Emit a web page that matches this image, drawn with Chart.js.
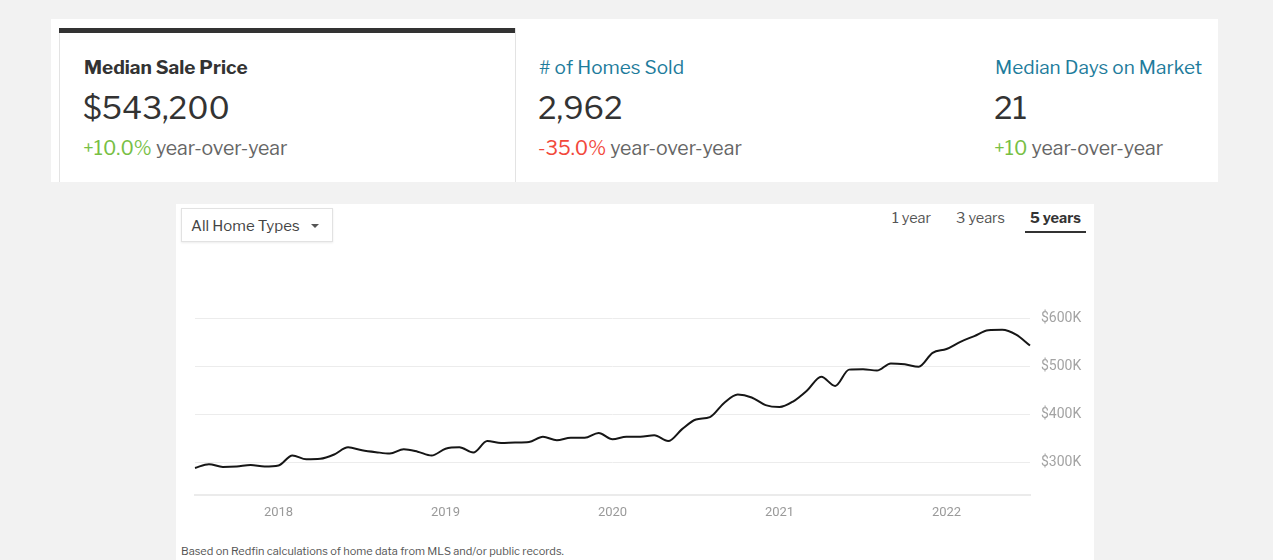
<!DOCTYPE html>
<html>
<head>
<meta charset="utf-8">
<script src="https://cdn.jsdelivr.net/npm/chart.js@4.4.0/dist/chart.umd.min.js"></script>
<style>
  html, body { margin: 0; padding: 0; width: 1273px; height: 560px; overflow: hidden; background: #f2f2f2; font-family: "Libre Franklin", Roboto, "Open Sans", sans-serif; }
  .abs { position: absolute; white-space: nowrap; }
  #stats { position: absolute; left: 51px; top: 19px; width: 1167px; height: 163px; background: #fff; }
  #active { position: absolute; left: 59px; top: 28px; width: 457px; height: 154px; border-left: 1px solid #e3e3e3; border-right: 1px solid #e3e3e3; box-sizing: border-box; }
  #activeBar { position: absolute; left: 59px; top: 28px; width: 456px; height: 5px; background: #333; }
  .title { font-size: 19px; line-height: 20px; }
  .value { font-size: 31px; line-height: 32px; color: #333; }
  .delta { font-size: 19.5px; line-height: 20px; color: #666; }
  .up { color: #78bf45; }
  .down { color: #f2483b; }
  .link { color: #1e7c9c; }
  #panel { position: absolute; left: 176px; top: 204px; width: 918px; height: 356px; background: #fff; }
  #dropdown { position: absolute; left: 181px; top: 208px; width: 152px; height: 34px; border: 1px solid #e2e2e2; box-shadow: 0 1px 2px rgba(0,0,0,0.08); background: #fff; box-sizing: border-box; }
  #chartBox { position: absolute; left: 176px; top: 250px; width: 918px; height: 281px; }
</style>
</head>
<body>
<div id="stats"></div>
<div id="active"></div>
<div id="activeBar"></div>

<div class="abs title" style="left:84px;top:58px;color:#333;font-weight:700;">Median Sale Price</div>
<div class="abs value" style="left:83px;top:92px;">$543,200</div>
<div class="abs delta" style="left:83px;top:138px;"><span class="up">+10.0%</span> year-over-year</div>

<div class="abs title link" style="left:539px;top:58px;"># of Homes Sold</div>
<div class="abs value" style="left:538px;top:92px;">2,962</div>
<div class="abs delta" style="left:538px;top:138px;"><span class="down">-35.0%</span> year-over-year</div>

<div class="abs title link" style="left:995px;top:58px;">Median Days on Market</div>
<div class="abs value" style="left:994px;top:92px;">21</div>
<div class="abs delta" style="left:994px;top:138px;"><span class="up">+10</span> year-over-year</div>

<div id="panel"></div>
<div id="dropdown"></div>
<div class="abs" style="left:191px;top:217px;font-size:15px;line-height:18px;color:#444;">All Home Types</div>
<div class="abs" style="left:311px;top:224px;width:0;height:0;border-left:4px solid transparent;border-right:4px solid transparent;border-top:4px solid #555;"></div>

<div class="abs" style="left:892px;top:209px;font-size:14.5px;line-height:18px;color:#555;">1 year</div>
<div class="abs" style="left:956px;top:209px;font-size:14.5px;line-height:18px;color:#555;">3 years</div>
<div class="abs" style="left:1030px;top:209px;font-size:14.5px;line-height:18px;color:#333;font-weight:700;">5 years</div>
<div class="abs" style="left:1025px;top:231px;width:61px;height:2px;background:#333;"></div>

<div id="chartBox"><canvas id="priceChart"></canvas></div>

<div class="abs" style="left:181px;top:544px;font-size:11px;line-height:14px;color:#555;">Based on Redfin calculations of home data from MLS and/or public records.</div>

<script>
// Monthly periods shown on the 5-year view
const months = [
  '2017-07','2017-08','2017-09','2017-10','2017-11','2017-12',
  '2018-01','2018-02','2018-03','2018-04','2018-05','2018-06',
  '2018-07','2018-08','2018-09','2018-10','2018-11','2018-12',
  '2019-01','2019-02','2019-03','2019-04','2019-05','2019-06',
  '2019-07','2019-08','2019-09','2019-10','2019-11','2019-12',
  '2020-01','2020-02','2020-03','2020-04','2020-05','2020-06',
  '2020-07','2020-08','2020-09','2020-10','2020-11','2020-12',
  '2021-01','2021-02','2021-03','2021-04','2021-05','2021-06',
  '2021-07','2021-08','2021-09','2021-10','2021-11','2021-12',
  '2022-01','2022-02','2022-03','2022-04','2022-05','2022-06',
  '2022-07'
];

// Median sale price per month (USD)
const medianPrice = [
  288000, 296000, 290000, 291000, 294000, 291000,
  293000, 314000, 306000, 307000, 316000, 331000,
  325000, 321000, 318000, 327000, 322000, 314000,
  328000, 331000, 320000, 344000, 340000, 341000,
  342000, 353000, 346000, 351000, 351000, 361000,
  348000, 353000, 353000, 356000, 344000, 369000,
  389000, 394000, 423000, 441000, 435000, 419000,
  415000, 427000, 450000, 478000, 459000, 493000,
  494000, 491000, 506000, 504000, 499000, 528000,
  536000, 551000, 563000, 575000, 576000, 566000,
  543200
];

// Price gridlines / labels on the right axis
const priceTicks = [300000, 400000, 500000, 600000];

new Chart(document.getElementById('priceChart'), {
  type: 'line',
  data: {
    labels: months,
    datasets: [{
      label: 'Median Sale Price',
      data: medianPrice,
      borderColor: '#161616',
      borderWidth: 2,
      pointRadius: 0,
      fill: false,
      cubicInterpolationMode: 'monotone'
    }]
  },
  options: {
    responsive: true,
    maintainAspectRatio: false,
    animation: false,
    events: [],
    layout: { padding: { left: 19, right: 11, top: 20, bottom: 0 } },
    plugins: { legend: { display: false }, tooltip: { enabled: false } },
    scales: {
      x: {
        type: 'category',
        offset: false,
        grid: { display: false, drawTicks: false },
        border: { display: true, color: '#ebebeb', width: 2 },
        ticks: {
          autoSkip: false,
          maxRotation: 0,
          padding: 10,
          color: '#9a9a9a',
          font: { family: 'Roboto, sans-serif', size: 13 },
          callback: (v, i) => months[i].endsWith('-01') ? months[i].slice(0, 4) : ''
        }
      },
      y: {
        position: 'right',
        min: 230800,
        max: 700700,
        afterBuildTicks: s => { s.ticks = priceTicks.map(v => ({ value: v })); },
        afterFit: s => { s.width = 53; },
        grid: { color: '#ececec', lineWidth: 1, drawTicks: false },
        border: { display: false },
        ticks: {
          padding: 11,
          color: '#a3a3a3',
          font: { family: 'Roboto, sans-serif', size: 14 },
          callback: v => '$' + (v / 1000) + 'K'
        }
      }
    }
  }
});
</script>
</body>
</html>
